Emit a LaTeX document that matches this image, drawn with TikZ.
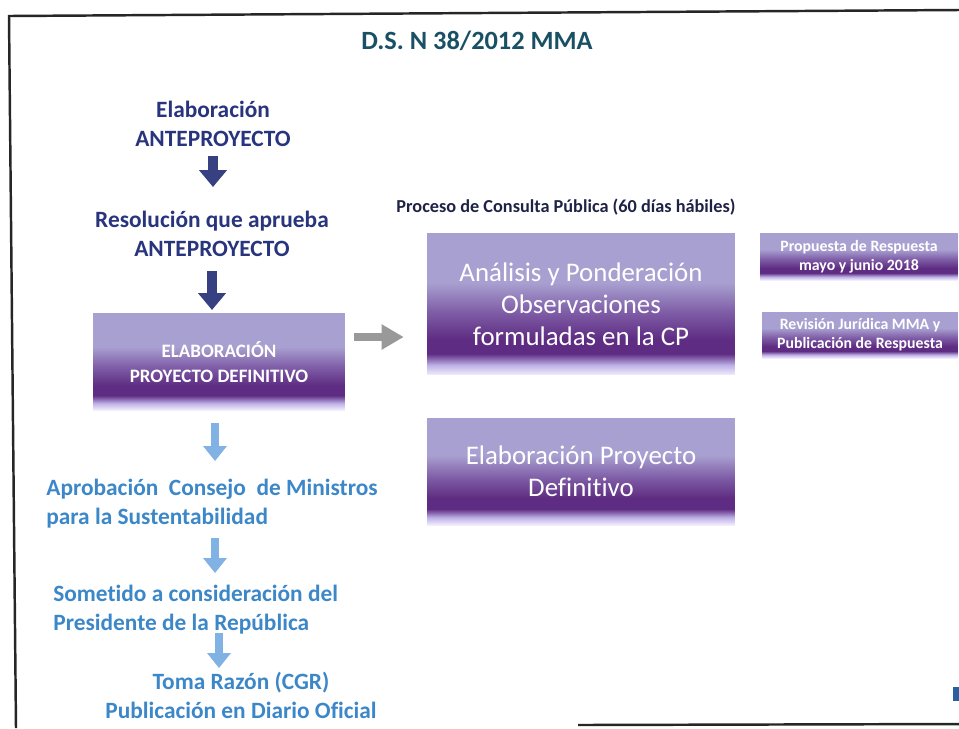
\documentclass[tikz,border=0pt]{standalone}
\usepackage{fontspec}
\setmainfont{Carlito}[Ligatures=NoCommon]
\usetikzlibrary{arrows.meta}

\definecolor{titleteal}{RGB}{25,80,100}
\definecolor{navyblue}{RGB}{40,52,125}
\definecolor{skyblue}{RGB}{60,135,200}
\definecolor{arrownavy}{RGB}{55,65,130}
\definecolor{arrowsky}{RGB}{128,178,228}
\definecolor{proctext}{RGB}{30,35,70}
\definecolor{scanmark}{RGB}{40,95,160}
\definecolor{stop}{RGB}{168,160,208}
\definecolor{smid}{RGB}{128,95,168}
\definecolor{sdeep}{RGB}{94,44,130}
\definecolor{slight}{RGB}{190,176,230}
\definecolor{sbot}{RGB}{242,238,252}

\pgfdeclareverticalshading{slab}{100bp}{color(0bp)=(sbot); color(25bp)=(sbot);
  color(28.5bp)=(slight); color(32.5bp)=(sdeep); color(37.5bp)=(sdeep);
  color(47.5bp)=(smid); color(57.5bp)=(stop); color(100bp)=(stop)}

\begin{document}
\begin{tikzpicture}[x=0.02cm,y=-0.02cm,
    navy/.style={text=navyblue,font=\fontsize{13.3}{16.4}\selectfont\bfseries,align=center,inner sep=0pt},
    sky/.style={text=skyblue,font=\fontsize{13.3}{16.6}\selectfont\bfseries,align=left,inner sep=0pt},
    slabbox/.style={shade,shading=slab,text=white,align=center,inner sep=0pt},
    darrow/.style={-{Triangle[length=9.6pt,width=15.3pt]},line width=5.2pt,draw=arrownavy},
    larrow/.style={-{Triangle[length=8.5pt,width=13pt]},line width=4.5pt,draw=arrowsky},
    garrow/.style={-{Triangle[length=12.5pt,width=13.6pt]},line width=5pt,draw=gray!80}]
  \useasboundingbox (0,0) rectangle (959,728);

  % frame of the scanned slide
  \draw[line width=1.4pt,black!85] (959,10) -- (9,16) -- (16,728);
  \draw[line width=1.4pt,black!85] (578,725) -- (959,724);
  \fill[scanmark] (953,687) rectangle (959,701);

  \node[text=titleteal,font=\fontsize{15}{18}\selectfont\bfseries,inner sep=0pt] (title) at (477,41) {D.S. N 38/2012 MMA};

  % left column
  \node[navy] (elab) at (213,124) {Elaboración\\ANTEPROYECTO};
  \node[navy] (resol) at (212,234) {Resolución que aprueba\\ANTEPROYECTO};
  \node[slabbox,minimum width=5.04cm,minimum height=1.94cm,
        font=\fontsize{10.8}{14.2}\selectfont\bfseries] (defbox) at (219,361.5)
        {\\[-5pt]ELABORACIÓN\\PROYECTO DEFINITIVO};
  \node[sky,anchor=west] (aprob) at (46,504) {Aprobación\ \ Consejo\ \ de Ministros\\para la Sustentabilidad};
  \node[sky,anchor=west] (somet) at (53,610) {Sometido a consideración del\\Presidente de la República};
  \node[sky,align=center] (toma) at (241,695) {Toma Razón (CGR)\\Publicación en Diario Oficial};

  \draw[darrow,shorten <=0.64cm,shorten >=0.94cm] (elab.center) -- (elab.center |- resol.center);
  \draw[darrow,shorten <=0.74cm,shorten >=1.03cm] (resol.center) -- (resol.center |- defbox.center);
  \draw[larrow,shorten <=1.23cm,shorten >=0.86cm] ([xshift=-0.08cm]defbox.center) -- ([xshift=-0.08cm]defbox.center |- aprob.center);
  \draw[larrow,shorten <=0.68cm,shorten >=0.74cm] ([xshift=-0.08cm]defbox.center |- aprob.center) -- ([xshift=-0.08cm]defbox.center |- somet.center);
  \draw[larrow,shorten <=0.46cm,shorten >=0.54cm] (defbox.center |- somet.center) -- (defbox.center |- toma.center);

  % consulta publica
  \node[text=proctext,font=\fontsize{10.4}{12}\selectfont\bfseries,inner sep=0pt] (proc) at (566,207)
        {Proceso de Consulta Pública (60 días hábiles)};
  \node[slabbox,minimum width=6.16cm,minimum height=2.84cm,
        font=\fontsize{15.3}{18.1}\selectfont] (analisis) at (581,304)
        {Análisis y Ponderación\\Observaciones\\formuladas en la CP};
  \node[slabbox,minimum width=6.16cm,minimum height=2.14cm,
        font=\fontsize{15.3}{18.1}\selectfont] (proyecto) at (581,471.5)
        {Elaboración Proyecto\\Definitivo};
  \node[slabbox,minimum width=3.96cm,minimum height=0.94cm,
        font=\fontsize{9}{10.8}\selectfont\bfseries] (propuesta) at (859,256.5)
        {Propuesta de Respuesta\\mayo y junio 2018};
  \node[slabbox,minimum width=3.92cm,minimum height=0.92cm,
        font=\fontsize{9}{10.8}\selectfont\bfseries] (revision) at (860,335)
        {Revisión Jurídica MMA y\\Publicación de Respuesta};

  \draw[garrow,shorten <=0.18cm,shorten >=0.46cm] ([yshift=0.49cm]defbox.east) -- ([yshift=0.49cm]defbox.east -| analisis.west);
\end{tikzpicture}
\end{document}
